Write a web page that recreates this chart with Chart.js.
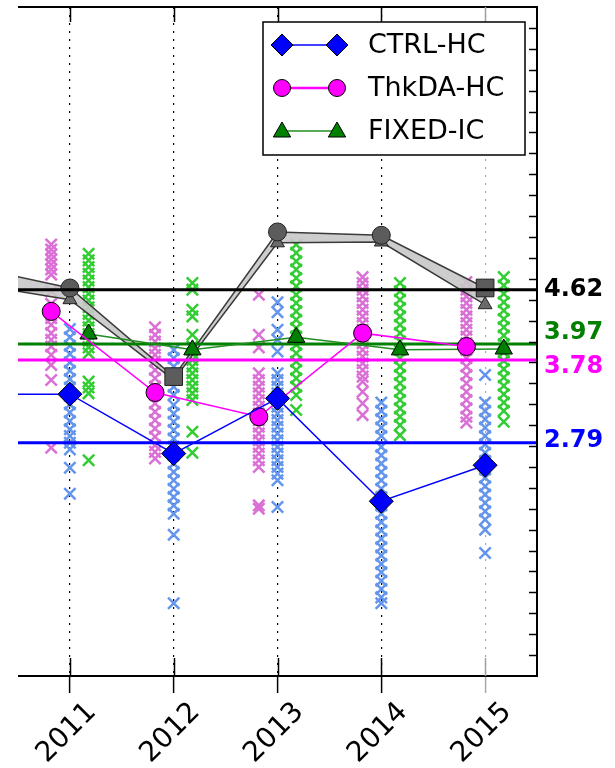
<!DOCTYPE html>
<html><head><meta charset="utf-8">
<script src="https://cdn.jsdelivr.net/npm/chart.js@4.4.0/dist/chart.umd.min.js"></script>
<style>html,body{margin:0;padding:0;background:#fff;}#wrap{width:615px;height:768px;position:relative;}</style>
</head><body><div id="wrap"><canvas id="c"></canvas></div>
<script>
// ---------- data ----------
const years = [2011, 2012, 2013, 2014, 2015];
const tickLabels = ['2011', '2012', '2013', '2014', '2015'];
const lineYears = [2010, 2011, 2012, 2013, 2014, 2015];
const seriesNames = ['CTRL-HC', 'ThkDA-HC', 'FIXED-IC'];
const ctrlHC = [3.37, 3.37, 2.66, 3.32, 2.09, 2.52];
const thkdaHC = [4.36, 3.39, 3.10, 4.10, 3.94];
const fixedIC = [4.09, 3.90, 4.05, 3.90, 3.91];
const grayUpper = [4.91, 4.64, 3.58, 5.31, 5.27, 4.64];
const grayLower = [4.70, 4.50, 3.54, 5.18, 5.19, 4.44];
const refValues = [4.62, 3.97, 3.78, 2.79];
const refLabels = ['4.62', '3.97', '3.78', '2.79'];
const ctrlSamples = [
  [4.15, 4.05, 3.95, 3.85, 3.75, 3.65, 3.55, 3.45, 3.35, 3.25, 3.15, 3.05, 2.95, 2.87, 2.79, 2.71, 2.49, 2.18],
  [3.90, 3.80, 3.70, 3.58, 3.46, 3.36, 3.24, 3.14, 3.04, 2.94, 2.84, 2.74, 2.64, 2.54, 2.44, 2.34, 2.24, 2.14, 2.04, 1.94, 1.69, 0.87],
  [4.47, 4.35, 4.14, 4.02, 3.88, 3.62, 3.54, 3.46, 3.38, 3.30, 3.22, 3.14, 3.06, 2.98, 2.90, 2.82, 2.74, 2.66, 2.58, 2.50, 2.42, 2.34, 2.02],
  [3.27, 3.17, 3.07, 2.97, 2.87, 2.74, 2.64, 2.54, 2.44, 2.34, 2.24, 2.14, 2.04, 1.94, 1.84, 1.74, 1.64, 1.54, 1.44, 1.34, 1.24, 1.14, 1.04, 0.94, 0.87],
  [3.60, 3.27, 3.17, 3.07, 2.97, 2.87, 2.77, 2.67, 2.57, 2.47, 2.37, 2.27, 2.17, 2.07, 1.97, 1.87, 1.75, 1.47]
];
const thkdaSamples = [
  [5.16, 5.10, 5.04, 4.98, 4.92, 4.86, 4.80, 4.60, 4.45, 4.35, 4.28, 4.20, 4.10, 4.02, 3.94, 3.84, 3.72, 3.54, 2.73],
  [4.17, 4.08, 4.00, 3.92, 3.84, 3.76, 3.66, 3.56, 3.46, 3.36, 3.26, 3.16, 3.06, 2.96, 2.86, 2.76, 2.68, 2.60],
  [4.56, 4.08, 3.93, 3.62, 3.54, 3.46, 3.38, 3.30, 3.22, 3.14, 3.06, 2.98, 2.90, 2.82, 2.74, 2.66, 2.58, 2.50, 2.04, 2.00],
  [4.77, 4.70, 4.62, 4.54, 4.46, 4.38, 4.30, 4.22, 4.14, 4.06, 3.98, 3.90, 3.82, 3.74, 3.66, 3.58, 3.52, 3.40, 3.26, 3.12],
  [4.71, 4.62, 4.54, 4.46, 4.38, 4.30, 4.22, 4.14, 4.06, 3.98, 3.90, 3.80, 3.70, 3.60, 3.50, 3.40, 3.30, 3.20, 3.10, 3.03]
];
const fixedSamples = [
  [5.05, 4.97, 4.89, 4.81, 4.73, 4.65, 4.57, 4.49, 4.41, 4.33, 4.25, 4.17, 4.09, 4.01, 3.93, 3.86, 3.52, 3.45, 3.38, 2.58],
  [4.70, 4.62, 4.38, 4.30, 4.08, 3.94, 3.86, 3.78, 3.70, 3.62, 3.54, 3.46, 3.38, 3.30, 2.92, 2.67],
  [5.16, 5.06, 4.96, 4.86, 4.76, 4.66, 4.56, 4.46, 4.36, 4.26, 4.16, 4.06, 3.96, 3.86, 3.76, 3.66, 3.56, 3.46, 3.36, 3.18],
  [4.70, 4.60, 4.50, 4.40, 4.30, 4.20, 4.10, 4.00, 3.90, 3.80, 3.70, 3.60, 3.50, 3.40, 3.30, 3.20, 3.10, 3.00, 2.88],
  [4.77, 4.67, 4.57, 4.47, 4.37, 4.27, 4.17, 4.07, 3.97, 3.87, 3.77, 3.67, 3.57, 3.47, 3.37, 3.27, 3.17, 3.04]
];

// ---------- layout / style ----------
const X_MIN = 2010.5, X_MAX = 2015.5, Y_MIN = 0, Y_MAX = 8;
const OFF_THK = -0.18, OFF_FIX = 0.18;
const refColors = ['#000000', '#008000', '#ff00ff', '#0000ff'];
const refLabelShift = [0, -11, 7, -2];
const FONT = '"DejaVu Sans", "Liberation Sans", sans-serif';

function samplesToPoints(samples, off) {
  const pts = [];
  samples.forEach((col, i) => col.forEach(v => pts.push({x: years[i] + off, y: v})));
  return pts;
}
const crossStyle = (c) => ({type: 'scatter', showLine: false, pointStyle: 'crossRot', pointRadius: 8,
  pointBorderWidth: 2.5, borderColor: c, backgroundColor: c, pointHoverRadius: 8});

const datasets = [];
// sample crosses
datasets.push(Object.assign({data: samplesToPoints(thkdaSamples, OFF_THK), order: 20}, crossStyle('#da70d6')));
datasets.push(Object.assign({data: samplesToPoints(ctrlSamples, 0), order: 19}, crossStyle('#6495ed')));
datasets.push(Object.assign({data: samplesToPoints(fixedSamples, OFF_FIX), order: 18}, crossStyle('#32cd32')));
// gray band
datasets.push({type: 'line', order: 12, data: lineYears.map((yr, i) => ({x: yr, y: grayUpper[i]})),
  borderColor: '#3a3a3a', borderWidth: 1.5, fill: false,
  pointStyle: ['circle', 'circle', 'rect', 'circle', 'circle', 'rect'],
  pointRadius: [9, 9, 12.5, 9, 9, 12.5], pointBackgroundColor: '#5c5c5c', pointBorderColor: '#222', pointBorderWidth: 1});
datasets.push({type: 'line', order: 13, data: lineYears.map((yr, i) => ({x: yr, y: grayLower[i]})),
  borderColor: '#3a3a3a', borderWidth: 1.5, fill: '-1', backgroundColor: 'rgba(200,200,200,0.9)',
  pointStyle: 'triangle', pointRadius: 8, pointBackgroundColor: '#6a6a6a', pointBorderColor: '#222', pointBorderWidth: 1});
// reference mean lines
refValues.forEach((v, i) => datasets.push({type: 'line', order: 8 - i,
  data: [{x: X_MIN, y: v}, {x: X_MAX, y: v}], borderColor: refColors[i], borderWidth: 3, pointRadius: 0, fill: false}));
// main series
datasets.push({type: 'line', order: 3, data: years.map((yr, i) => ({x: yr + OFF_FIX, y: fixedIC[i]})),
  borderColor: '#1f8f1f', borderWidth: 1.5, fill: false, pointStyle: 'triangle', pointRadius: 10,
  pointBackgroundColor: '#008000', pointBorderColor: '#000', pointBorderWidth: 1});
datasets.push({type: 'line', order: 2, data: years.map((yr, i) => ({x: yr + OFF_THK, y: thkdaHC[i]})),
  borderColor: '#ff00ff', borderWidth: 1.5, fill: false, pointStyle: 'circle', pointRadius: 9,
  pointBackgroundColor: '#ff00ff', pointBorderColor: '#000', pointBorderWidth: 1});
datasets.push({type: 'line', order: 1, data: lineYears.map((yr, i) => ({x: yr, y: ctrlHC[i]})),
  borderColor: '#0000ff', borderWidth: 1.5, fill: false, pointStyle: 'rectRot', pointRadius: 12,
  pointBackgroundColor: '#0000ff', pointBorderColor: '#000', pointBorderWidth: 1});

function drawMarker(ctx, shape, x, y, r, fill) {
  ctx.beginPath();
  if (shape === 'diamond') {
    ctx.moveTo(x, y - r); ctx.lineTo(x + r, y); ctx.lineTo(x, y + r); ctx.lineTo(x - r, y); ctx.closePath();
  } else if (shape === 'circle') {
    ctx.arc(x, y, r, 0, Math.PI * 2);
  } else {
    const w = r * Math.sqrt(3) / 2;
    ctx.moveTo(x, y - r); ctx.lineTo(x + w, y + r / 2); ctx.lineTo(x - w, y + r / 2); ctx.closePath();
  }
  ctx.fillStyle = fill; ctx.fill();
  ctx.strokeStyle = '#000'; ctx.lineWidth = 1; ctx.stroke();
}

const decor = {
  id: 'decor',
  afterDatasetsDraw(chart) {
    const {ctx, chartArea: a, scales: {x, y}} = chart;
    ctx.save();
    // spines
    ctx.strokeStyle = '#000'; ctx.lineWidth = 2;
    ctx.beginPath();
    ctx.moveTo(a.left, a.top); ctx.lineTo(a.right, a.top); ctx.lineTo(a.right, a.bottom); ctx.lineTo(a.left, a.bottom);
    ctx.stroke();
    // inward x ticks
    years.forEach(yr => {
      const px = Math.round(x.getPixelForValue(yr)) + 0.5;
      ctx.strokeStyle = yr === 2015 ? '#a0a0a0' : '#000';
      ctx.lineWidth = 1.5;
      ctx.beginPath();
      ctx.moveTo(px, a.top); ctx.lineTo(px, a.top + 15);
      ctx.moveTo(px, a.bottom); ctx.lineTo(px, a.bottom - 18);
      ctx.stroke();
    });
    // right spine minor ticks (inward)
    ctx.strokeStyle = '#000'; ctx.lineWidth = 1.5;
    for (let k = 1; k < 32; k++) {
      const py = Math.round(y.getPixelForValue(k * 0.25)) + 0.5;
      ctx.beginPath(); ctx.moveTo(a.right, py); ctx.lineTo(a.right - 8, py); ctx.stroke();
    }
    // right labels for the mean lines
    ctx.font = 'bold 24px ' + FONT;
    ctx.textBaseline = 'middle'; ctx.textAlign = 'left';
    refValues.forEach((v, i) => {
      ctx.fillStyle = refColors[i];
      ctx.fillText(refLabels[i], a.right + 7, y.getPixelForValue(v) + refLabelShift[i]);
    });
    // legend
    const L = {x: 263, y: 22, w: 262, h: 133};
    ctx.fillStyle = '#fff'; ctx.fillRect(L.x, L.y, L.w, L.h);
    ctx.strokeStyle = '#000'; ctx.lineWidth = 1.5; ctx.strokeRect(L.x, L.y, L.w, L.h);
    const ent = [
      {shape: 'diamond', color: '#0000ff', line: '#0000ff', r: 11},
      {shape: 'circle', color: '#ff00ff', line: '#ff00ff', r: 8.5},
      {shape: 'triangle', color: '#008000', line: '#1f8f1f', r: 10}
    ];
    const rowY = [45, 88, 131];
    ent.forEach((e, i) => {
      const cy = rowY[i];
      ctx.strokeStyle = e.line; ctx.lineWidth = i === 1 ? 2.5 : 1.5;
      ctx.beginPath(); ctx.moveTo(282, cy); ctx.lineTo(337, cy); ctx.stroke();
      drawMarker(ctx, e.shape, 282, e.shape === 'triangle' ? cy + 1 : cy, e.r, e.color);
      drawMarker(ctx, e.shape, 337, e.shape === 'triangle' ? cy + 1 : cy, e.r, e.color);
      ctx.fillStyle = '#000'; ctx.font = '27px ' + FONT; ctx.textBaseline = 'middle';
      ctx.fillText(seriesNames[i], 368, cy + 1);
    });
    ctx.restore();
  }
};

new Chart(document.getElementById('c'), {
  type: 'scatter',
  data: {datasets},
  plugins: [decor],
  options: {
    responsive: true, maintainAspectRatio: false, animation: false,
    layout: {autoPadding: false, padding: {left: 18, right: 78, top: 7, bottom: 0}},
    plugins: {legend: {display: false}, tooltip: {enabled: false}},
    elements: {line: {tension: 0}},
    scales: {
      x: {
        type: 'linear', min: X_MIN, max: X_MAX, position: 'bottom',
        afterBuildTicks: (s) => { s.ticks = years.map(v => ({value: v})); },
        afterFit: (s) => { s.height = 92; },
        ticks: {
          autoSkip: false, minRotation: 45, maxRotation: 45, labelOffset: 22, padding: 3,
          color: '#000', font: {family: FONT, size: 28},
          callback: (v) => tickLabels[years.indexOf(v)]
        },
        grid: {
          color: (c) => (c.tick && c.tick.value === 2015) ? '#a8a8a8' : '#000',
          tickColor: (c) => (c.tick && c.tick.value === 2015) ? '#a8a8a8' : '#000',
          lineWidth: 1.2, tickWidth: 1.5, tickLength: 17, drawTicks: true, tickBorderDash: []
        },
        border: {display: false, dash: [2, 6]}
      },
      y: {type: 'linear', min: Y_MIN, max: Y_MAX, display: false}
    }
  }
});
</script></body></html>
